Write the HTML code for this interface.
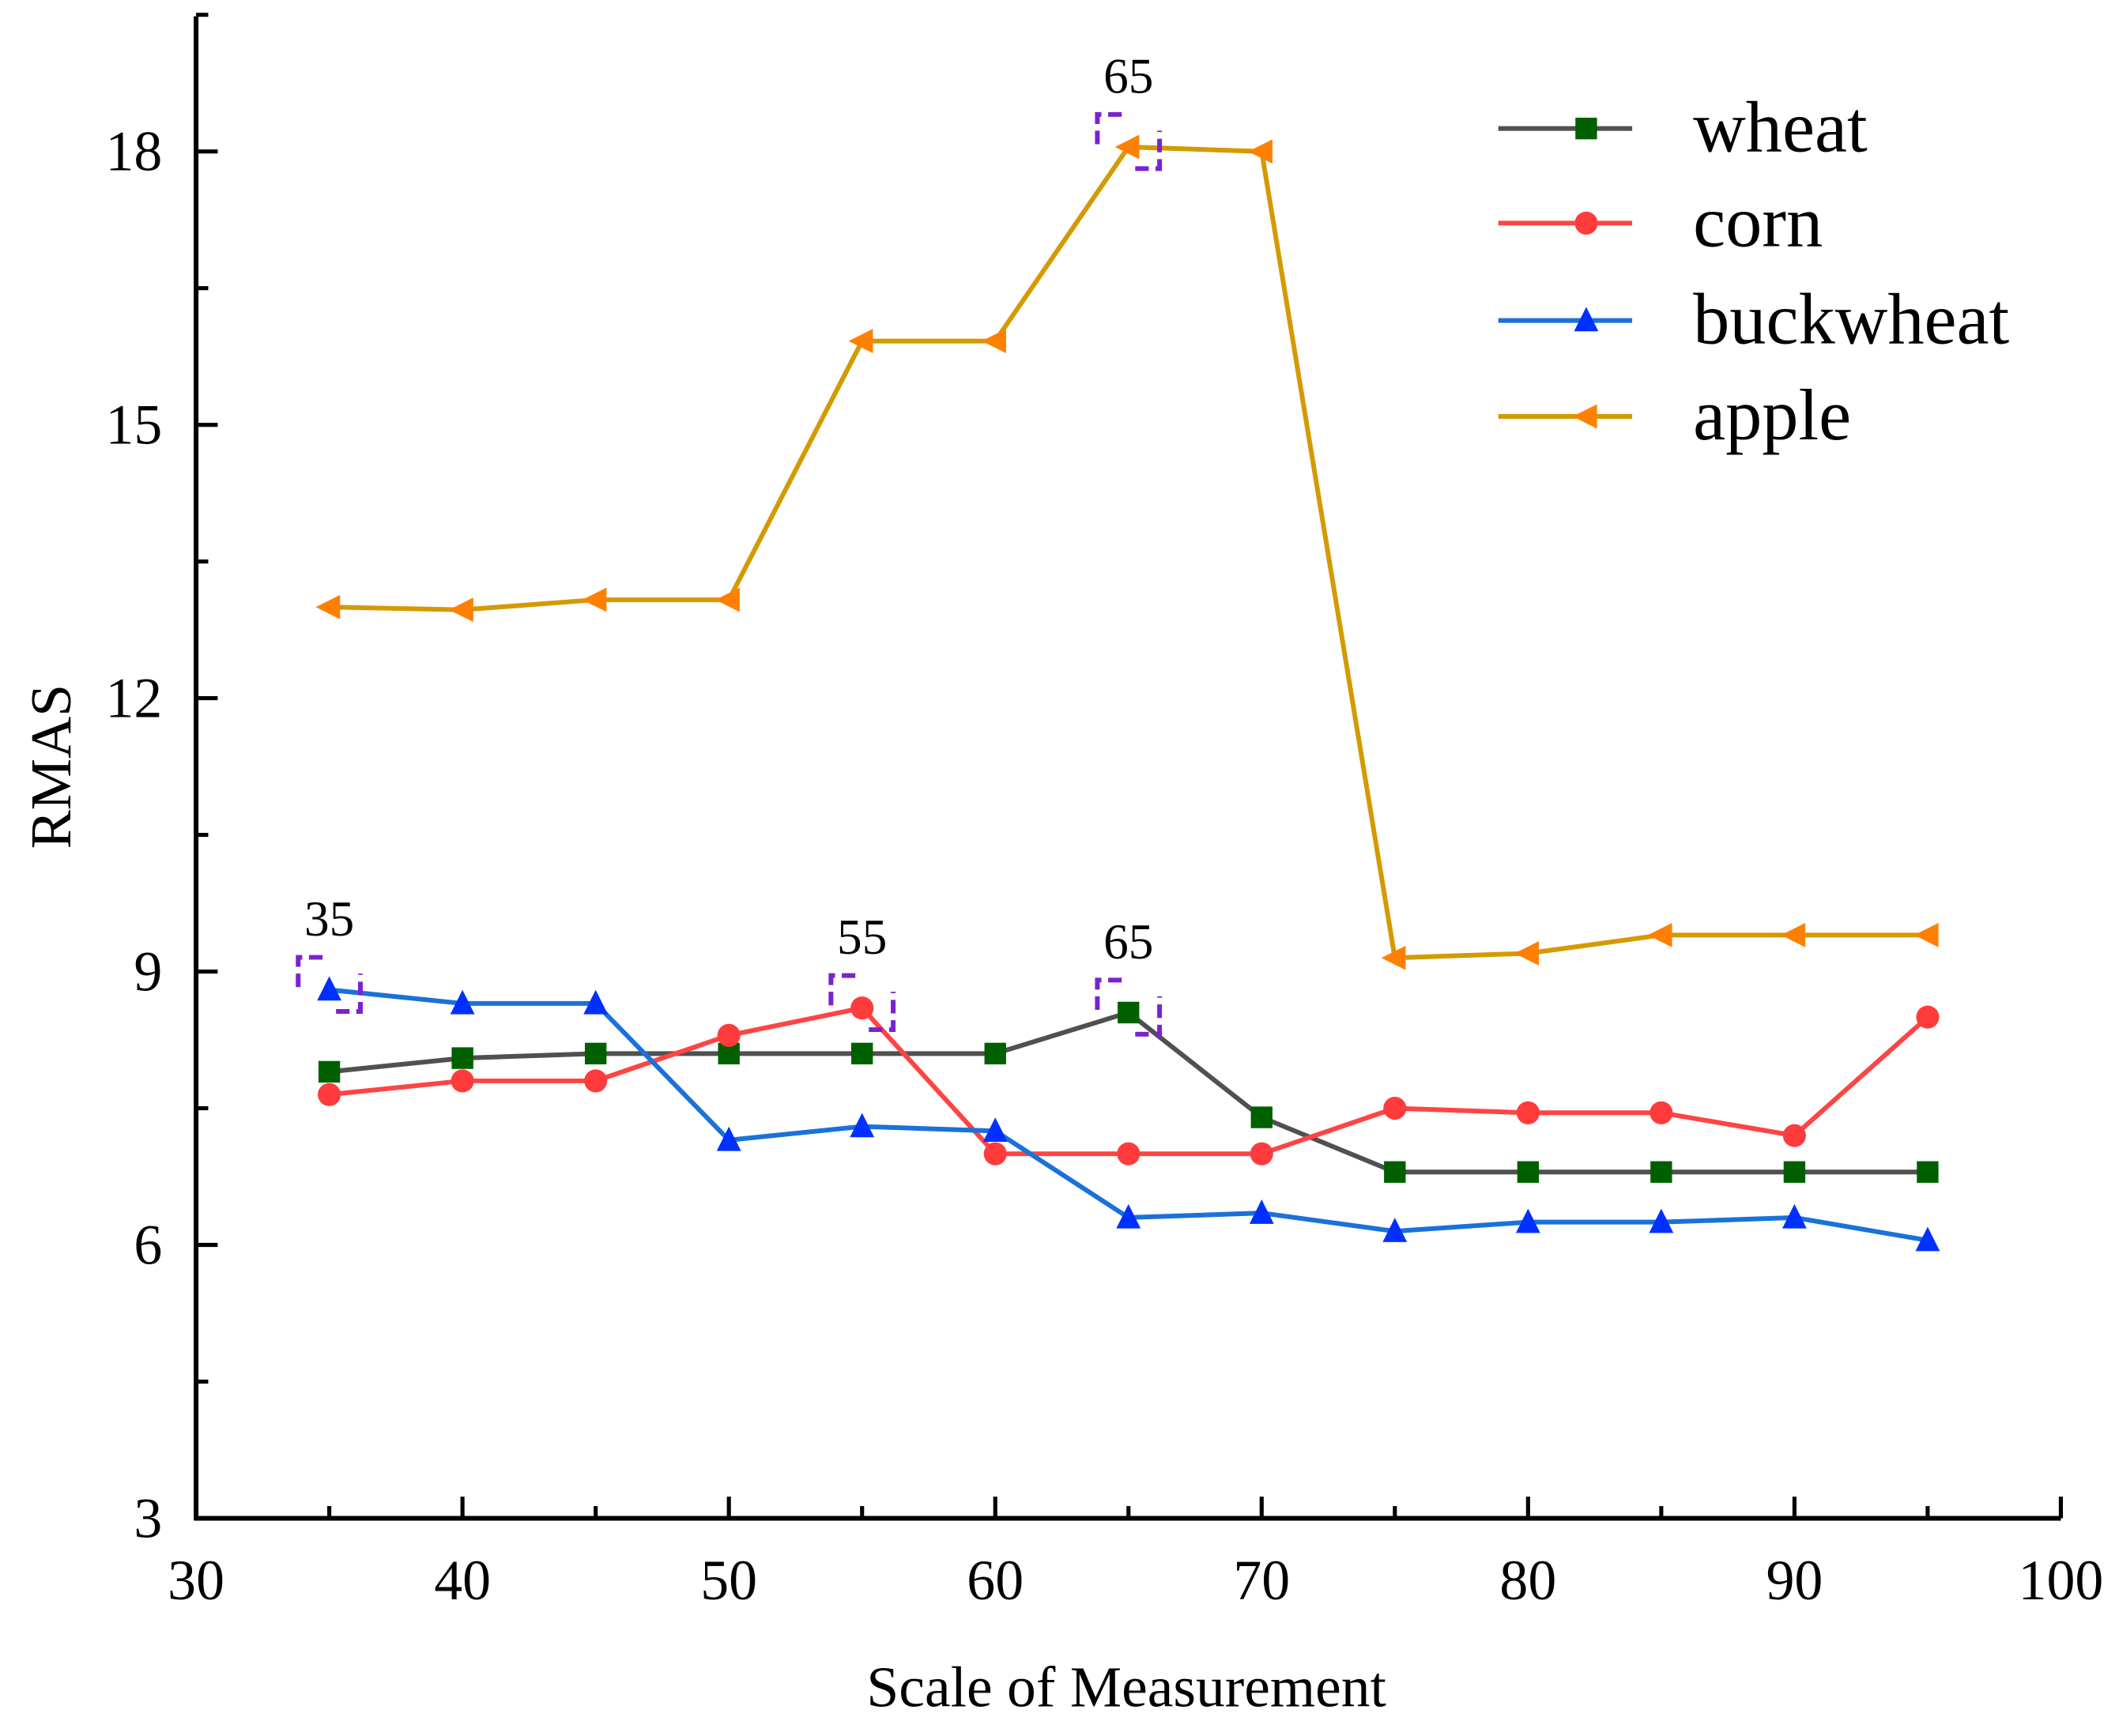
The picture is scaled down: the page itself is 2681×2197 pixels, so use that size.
<!DOCTYPE html>
<html><head><meta charset="utf-8"><style>
html,body{margin:0;padding:0;background:#fff;}
svg{display:block;font-family:"Liberation Serif",serif;}
</style></head><body>
<svg id="chart" width="2681" height="2197" viewBox="0 0 1567 1284" xmlns="http://www.w3.org/2000/svg">
<g id="axes"></g>
<g id="series"></g>
<g id="legend"></g>
<text transform="translate(52,567) rotate(-90)" text-anchor="middle" font-size="43">RMAS</text>
<text x="833" y="1262" text-anchor="middle" font-size="43">Scale of Measurement</text>
</svg>
<script>
const xValues = [35,40,45,50,55,60,65,70,75,80,85,90,95];
const wheat = [7.9,8.05,8.1,8.1,8.1,8.1,8.55,7.4,6.8,6.8,6.8,6.8,6.8];
const corn = [7.65,7.8,7.8,8.3,8.6,7.0,7.0,7.0,7.5,7.45,7.45,7.2,8.5];
const buckwheat = [8.8,8.65,8.65,7.15,7.3,7.25,6.3,6.35,6.15,6.25,6.25,6.3,6.05];
const apple = [13.0,12.97,13.08,13.08,15.92,15.92,18.05,18.0,9.15,9.2,9.4,9.4,9.4];
const xTicks = [30,40,50,60,70,80,90,100];
const yTicks = [3,6,9,12,15,18];
const highlights = [["buckwheat",35,"35"],["corn",55,"55"],["wheat",65,"65"],["apple",65,"65"]];

const NS="http://www.w3.org/2000/svg";
const X0=145,X1=1524,Y0=1123,Y1=112;
function sx(v){return X0+(v-30)/70*(X1-X0);}
function sy(v){return Y0-(v-3)/15*(Y0-Y1);}
function mk(tag,attrs,parent){const e=document.createElementNS(NS,tag);for(const k in attrs)e.setAttribute(k,attrs[k]);parent.appendChild(e);return e;}
const axes=document.getElementById('axes');
let e;
e=mk('line',{x1:X0,y1:12,x2:X0,y2:Y0+1.5,stroke:'#000','stroke-width':3.5},axes);


e=mk('line',{x1:X0-1.5,y1:Y0,x2:X1,y2:Y0,stroke:'#000','stroke-width':3.5},axes);


for(let v=30;v<=100;v+=5){
  const major=v%10===0;
  e=mk('line',{x1:sx(v),y1:Y0,x2:sx(v),y2:Y0-(major?16:9),stroke:'#000','stroke-width':3},axes);
  
  
}
xTicks.forEach(v=>{
  e=mk('text',{x:sx(v),y:1183,'text-anchor':'middle','font-size':42},axes);
  e.textContent=v;
  
  
});
for(let v=3;v<=19.5;v+=1.5){
  const major=Math.abs(v%3)<0.01;
  e=mk('line',{x1:X0,y1:sy(v),x2:X0+(major?16:9),y2:sy(v),stroke:'#000','stroke-width':3},axes);
  
  
}
yTicks.forEach(v=>{
  e=mk('text',{x:120,y:sy(v)+14,'text-anchor':'end','font-size':42},axes);
  e.textContent=v;
  
  
});

const defs={
  wheat:{data:wheat,line:'#505050',fill:'#006000',m:'square'},
  corn:{data:corn,line:'#ff4444',fill:'#ff3b3b',m:'circle'},
  buckwheat:{data:buckwheat,line:'#1a72d8',fill:'#0030ff',m:'tri'},
  apple:{data:apple,line:'#d49a00',fill:'#ff8000',m:'ltri'}
};
function marker(type,x,y,fill,parent){
  if(type==='square') return mk('rect',{x:x-8,y:y-8,width:16,height:16,fill:fill},parent);
  if(type==='circle') return mk('circle',{cx:x,cy:y,r:8.5,fill:fill},parent);
  if(type==='tri') return mk('polygon',{points:`${x},${y-10} ${x-9},${y+8} ${x+9},${y+8}`,fill:fill},parent);
  return mk('polygon',{points:`${x-10},${y} ${x+8},${y-9} ${x+8},${y+9}`,fill:fill},parent);
}
const series=document.getElementById('series');
['apple','wheat','corn','buckwheat'].forEach(name=>{
  const d=defs[name];
  const g=mk('g',{},series);
  
  
  const pts=d.data.map((v,i)=>sx(xValues[i])+','+sy(v)).join(' ');
  e=mk('polyline',{points:pts,fill:'none',stroke:d.line,'stroke-width':3.5},g);
  
  
  d.data.forEach((v,i)=>{
    e=marker(d.m,sx(xValues[i]),sy(v),d.fill,g);
    
    
  });
});
highlights.forEach(h=>{
  const d=defs[h[0]];const i=xValues.indexOf(h[1]);
  const x=sx(h[1]),y=sy(d.data[i]);
  const g=mk('g',{},series);
  
  
  const st={fill:'none',stroke:'#7b22d0','stroke-width':3.5,'stroke-dasharray':'10,5'};
  mk('path',Object.assign({d:`M${x-5},${y-24} H${x-23} V${y+2}`},st),g);
  mk('path',Object.assign({d:`M${x+5},${y+16} H${x+23} V${y-12}`},st),g);
  e=mk('text',{x:x,y:y-40,'text-anchor':'middle','font-size':37},g);
  e.textContent=h[2];
  
  
});
const legend=document.getElementById('legend');
const legY=[95,165,237,308];
['wheat','corn','buckwheat','apple'].forEach((name,k)=>{
  const d=defs[name];
  const g=mk('g',{},legend);
  
  
  mk('line',{x1:1108,y1:legY[k],x2:1207,y2:legY[k],stroke:d.line,'stroke-width':3.5},g);
  marker(d.m,1173,legY[k],d.fill,g);
  e=mk('text',{x:1252,y:legY[k]+17,'font-size':54},g);
  e.textContent=name;
  
  
});
</script>
</body></html>
